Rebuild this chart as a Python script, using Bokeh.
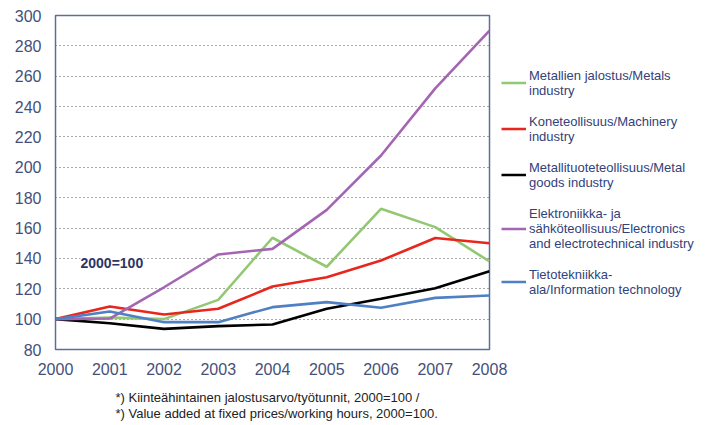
from bokeh.plotting import figure
from bokeh.models import (ColumnDataSource, Label, FixedTicker, Range1d,
                          Legend, LegendItem, Title)
from bokeh.embed import file_html
from bokeh.resources import INLINE

years = [2000, 2001, 2002, 2003, 2004, 2005, 2006, 2007, 2008]
metals = [100, 101, 100, 112.7, 153.6, 134.5, 172.7, 160.6, 138]
machinery = [100, 108.3, 103, 106.8, 121.5, 127.6, 138.6, 153.4, 150]
metal_goods = [100, 97.3, 93.6, 95.4, 96.5, 106.8, 113.4, 120.4, 131.6]
electronics = [100, 100.4, 121, 142.6, 146.3, 172, 207.8, 252, 290]
it = [100, 105, 98, 98, 107.9, 111.2, 107.5, 114, 115.6]

series_labels = [
    "Metallien jalostus/Metals\nindustry",
    "Koneteollisuus/Machinery\nindustry",
    "Metallituoteteollisuus/Metal\ngoods industry",
    "Elektroniikka- ja\nsähköteollisuus/Electronics\nand electrotechnical industry",
    "Tietotekniikka-\nala/Information technology",
]
series_values = [metals, machinery, metal_goods, electronics, it]
series_colors = ["#93c872", "#e8261d", "#000000", "#a466b3", "#4f80c4"]
y_ticks = [80, 100, 120, 140, 160, 180, 200, 220, 240, 260, 280, 300]
footnotes = ["*) Kiinteähintainen jalostusarvo/työtunnit, 2000=100 /",
             "*) Value added at fixed prices/working hours, 2000=100."]
base_note = "2000=100"

FONT = "Liberation Sans"
L, T = 55, 15
FW, FH = 434, 334
FB = T + FH  # frame bottom in image pixels

p = figure(frame_width=FW, frame_height=FH, output_backend="svg", toolbar_location=None,
           x_range=Range1d(2000, 2008), y_range=Range1d(80, 300),
           min_border_left=L, min_border_right=0, min_border_top=T, min_border_bottom=0)
p.background_fill_color = "white"
p.border_fill_color = "white"
p.outline_line_color = "#5c6f9c"
p.outline_line_width = 1.5

p.xaxis.ticker = FixedTicker(ticks=years)
p.yaxis.ticker = FixedTicker(ticks=y_ticks)
for ax in (p.xaxis[0], p.yaxis[0]):
    ax.axis_line_color = None
    ax.major_tick_line_color = None
    ax.minor_tick_line_color = None
    ax.major_label_text_font = FONT
    ax.major_label_text_font_size = "16px"
    ax.major_label_text_color = "#45507a"
p.xaxis.major_label_standoff = 7
p.yaxis.major_label_standoff = 8

p.xgrid.grid_line_color = None
p.ygrid.grid_line_color = "#555555"
p.ygrid.grid_line_dash = "1 3"
p.ygrid.grid_line_width = 1.2

items = []
for vals, col, lab in zip(series_values, series_colors, series_labels):
    src = ColumnDataSource(dict(x=years, y=vals))
    r = p.line("x", "y", source=src, line_color=col, line_width=2.6)
    items.append(LegendItem(label=lab, renderers=[r]))

legend = Legend(items=items, location="left", margin=12, padding=2, spacing=16,
                glyph_width=25, glyph_height=14, label_standoff=3,
                label_text_font=FONT, label_text_font_size="13px",
                label_text_color="#33417a", label_text_line_height=1.08,
                border_line_color=None, background_fill_alpha=0)
p.add_layout(legend, "right")

# base label with white background (inside plot frame)
p.add_layout(Label(x=80 - L, y=FB - 262, x_units="screen", y_units="screen",
                   text=base_note, text_font=FONT, text_font_size="14px",
                   text_font_style="bold", text_color="#2c3566",
                   background_fill_color="white", text_baseline="middle"))

p.add_layout(Title(text="\n".join(footnotes), align="left", offset=60, standoff=19,
                   text_font=FONT, text_font_size="13px", text_line_height=1.1,
                   text_font_style="normal", text_color="#222222"), "below")

open("out.html", "w").write(file_html(p, INLINE))
